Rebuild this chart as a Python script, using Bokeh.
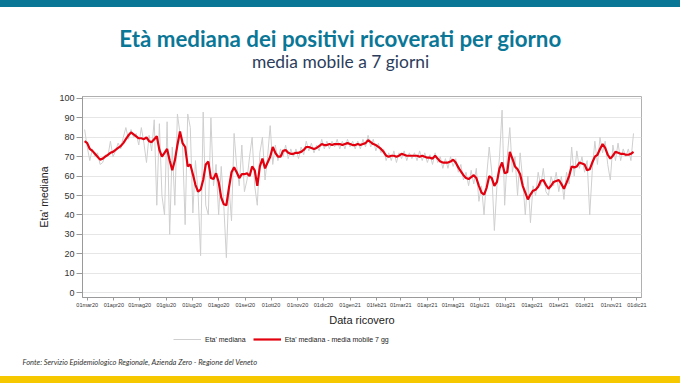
import pandas as pd
from bokeh.plotting import figure
from bokeh.models import Range1d, FixedTicker, Legend, LegendItem, Title, Label
from bokeh.layouts import column
from bokeh.embed import file_html
from bokeh.resources import INLINE

# ---------------- data ----------------
start_date = "2020-02-27"
step_days = 3

eta_mediana = [
    84, 75, 68, 74, 70, 72, 66, 67, 71, 70,
    78, 70, 73, 77, 74, 80, 85, 79, 84, 80,
    82, 76, 85, 77, 67, 81, 73, 89, 45, 87,
    50, 40, 88, 30, 75, 45, 92, 82, 76, 35,
    92, 85, 41, 68, 52, 19, 93, 45, 40, 90,
    55, 66, 40, 65, 45, 18, 55, 37, 82, 65,
    55, 76, 52, 58, 70, 80, 55, 45, 72, 80,
    58, 70, 86, 66, 76, 68, 74, 70, 76, 69,
    74, 70, 74, 69, 75, 71, 78, 73, 77, 72,
    76, 73, 79, 74, 78, 74, 78, 75, 79, 74,
    78, 74, 79, 75, 78, 74, 78, 74, 79, 75,
    81, 75, 79, 73, 77, 72, 74, 68, 72, 68,
    73, 67, 72, 69, 73, 68, 72, 69, 72, 68,
    73, 68, 72, 67, 71, 66, 72, 67, 70, 64,
    69, 64, 70, 65, 69, 62, 66, 58, 62, 55,
    63, 56, 64, 47, 55, 40, 60, 75, 62, 32,
    55, 70, 94, 45, 70, 85, 62, 70, 50, 72,
    58, 40, 60, 36, 55, 50, 62, 55, 64, 52,
    50, 60, 55, 62, 52, 60, 48, 62, 56, 75,
    60, 73, 64, 70, 62, 68, 40, 63, 78, 66,
    80, 72, 78, 66, 58, 76, 68, 77, 68, 74,
    70, 74, 68, 82,
]

media_mobile_7gg = [
    78, 77, 74, 73, 71.5, 70, 68.5, 69, 70, 71,
    72, 72.5, 73.5, 74.5, 75.5, 77, 79, 81, 82.5, 81.5,
    80.5, 79.5, 79.5, 79, 80, 78, 77.5, 79, 80.5, 73.5,
    70, 72, 74, 68, 63, 68, 76, 83, 77, 75,
    65, 66, 61, 55.5, 52, 53, 58, 66, 67.5, 59,
    58.5, 61.5, 57, 49, 45.5, 45, 54, 62, 64.5, 62,
    59, 61, 61, 61.5, 60, 65, 63, 55, 65, 69,
    64, 67, 70, 75, 72, 70, 70, 73, 73.5, 72,
    71.5, 71.5, 72, 72, 72.5, 73.5, 75, 75, 74.5, 74,
    74.5, 75.5, 76.5, 76, 76, 76.5, 76, 76.5, 76.5, 76.5,
    76, 76.5, 77, 76.5, 76, 76, 76.5, 76, 76.5, 77,
    78.5, 77.5, 76.5, 76, 75, 74, 72.5, 70.5, 70, 70.5,
    70.5, 70, 70.5, 71.5, 71, 70.5, 70.5, 70.5, 70.5, 70.5,
    70, 70.5, 70, 69.5, 69.5, 69, 70.5, 69, 67.5, 67,
    67, 67, 67.5, 68.5, 67, 64.5, 62.5, 60.5, 59, 58.5,
    59.5, 60.5, 59, 55, 51.5, 50.5, 54, 60, 59, 55,
    57, 64, 67, 61.5, 62, 72.5, 69, 65, 63.5, 61,
    55, 51.5, 48, 50.5, 52.5, 53, 54.5, 57.5, 58, 55.5,
    53.5, 55, 57, 57.5, 58, 56, 53.5, 56.5, 60, 65,
    64.5, 65, 67, 66.5, 66, 63, 63.5, 67, 70, 71,
    74, 76.5, 74.5, 71, 69, 70.5, 72.5, 72, 71.5, 71.5,
    71, 71, 71.5, 72.5,
]

tick_dates = [
    "2020-03-01", "2020-04-01", "2020-05-01", "2020-06-01", "2020-07-01",
    "2020-08-01", "2020-09-01", "2020-10-01", "2020-11-01", "2020-12-01",
    "2021-01-01", "2021-02-01", "2021-03-01", "2021-04-01", "2021-05-01",
    "2021-06-01", "2021-07-01", "2021-08-01", "2021-09-01", "2021-10-01",
    "2021-11-01", "2021-12-01",
]
tick_labels = [
    "01mar20", "01apr20", "01mag20", "01giu20", "01lug20", "01ago20",
    "01set20", "01ott20", "01nov20", "01dic20", "01gen21", "01feb21",
    "01mar21", "01apr21", "01mag21", "01giu21", "01lug21", "01ago21",
    "01set21", "01ott21", "01nov21", "01dic21",
]
y_ticks = [0, 10, 20, 30, 40, 50, 60, 70, 80, 90, 100]

# ---------------- build ----------------
base = pd.Timestamp("2020-03-01")
dates = pd.date_range(start_date, periods=len(eta_mediana), freq=f"{step_days}D")
xs = [(d - base).days for d in dates]
tick_pos = [(pd.Timestamp(d) - base).days for d in tick_dates]

TEAL = "#0b7797"
YELLOW = "#f6c800"
GRAY_LINE = "#cfcfcf"
RED_LINE = "#e3000f"
W = 680
LEFT, RIGHT = 82, 39


def strip(height, top=0, bottom=0):
    f = figure(width=W, height=height, output_backend="svg", toolbar_location=None,
               x_range=Range1d(0, 1), y_range=Range1d(0, 1),
               x_axis_location=None, y_axis_location=None,
               min_border_left=LEFT, min_border_right=RIGHT,
               min_border_top=top, min_border_bottom=bottom,
               background_fill_color="white", border_fill_color="white",
               outline_line_color=None)
    f.grid.visible = False
    return f


# ---- header with title / subtitle ----
head = strip(84)
head.add_layout(Label(x=258, y=53, x_units="screen", y_units="screen",
                      text="Età mediana dei positivi ricoverati per giorno",
                      text_align="center", text_baseline="middle", text_font="Lato",
                      text_font_size="22.3px", text_font_style="bold", text_color=TEAL))
head.add_layout(Label(x=258, y=30, x_units="screen", y_units="screen",
                      text="media mobile a 7 giorni",
                      text_align="center", text_baseline="middle", text_font="Lato",
                      text_font_size="17.4px", text_color="#2c3d5c"))

# ---- main chart ----
p = figure(width=W, height=237, output_backend="svg", toolbar_location=None,
           x_range=Range1d(-5.5, 645.3), y_range=Range1d(-2.5, 101),
           min_border_left=LEFT, min_border_right=RIGHT, min_border_top=5,
           min_border_bottom=28, background_fill_color="white",
           border_fill_color="white", outline_line_color="#b0b0b0")

p.line(xs, eta_mediana, line_color=GRAY_LINE, line_width=1)
p.line(xs, media_mobile_7gg, line_color=RED_LINE, line_width=2.2)

p.xgrid.visible = False
p.ygrid.grid_line_color = "#e6e6e6"

p.xaxis.ticker = FixedTicker(ticks=tick_pos)
p.xaxis.major_label_overrides = {int(k): v for k, v in zip(tick_pos, tick_labels)}
p.xaxis.major_label_text_font_size = "5.5px"
p.xaxis.major_label_standoff = 1
p.xaxis.major_tick_out = 3
p.xaxis.major_tick_in = 0
p.xaxis.minor_tick_line_color = None
p.xaxis.axis_label = "Data ricovero"
p.xaxis.axis_label_text_font_size = "11px"
p.xaxis.axis_label_text_font_style = "normal"
p.xaxis.axis_label_standoff = 3

p.yaxis.ticker = FixedTicker(ticks=y_ticks)
p.yaxis.major_label_text_font_size = "9px"
p.yaxis.major_label_standoff = 2
p.yaxis.major_tick_out = 6
p.yaxis.major_tick_in = 0
p.yaxis.minor_tick_line_color = None
p.yaxis.axis_label = "Eta' mediana"
p.yaxis.axis_label_text_font_size = "10.5px"
p.yaxis.axis_label_text_font_style = "normal"
p.yaxis.axis_label_standoff = 6

for ax in (p.xaxis, p.yaxis):
    ax.axis_line_color = "#9a9a9a"
    ax.major_tick_line_color = "#9a9a9a"
    ax.major_label_text_color = "#333333"
    ax.axis_label_text_color = "#222222"
    ax.major_label_text_font = "Liberation Sans"
    ax.axis_label_text_font = "Liberation Sans"

# ---- legend + source strip ----
lg = strip(48, top=0, bottom=22)
# legend keys: same series, drawn outside this strip's (empty) view
k1 = lg.line(xs, eta_mediana, line_color=GRAY_LINE, line_width=1)
k2 = lg.line(xs, media_mobile_7gg, line_color=RED_LINE, line_width=2.2)
legend = Legend(items=[LegendItem(label="Eta' mediana", renderers=[k1]),
                       LegendItem(label="Eta' mediana - media mobile 7 gg", renderers=[k2])],
                orientation="horizontal", location=(91, 11),
                label_text_font_size="7px", label_text_font="Liberation Sans",
                label_text_color="#222222", glyph_width=28, glyph_height=8,
                label_standoff=4, spacing=7, padding=0, margin=0,
                border_line_color=None, background_fill_alpha=0)
lg.add_layout(legend)
lg.add_layout(Title(text="Fonte: Servizio Epidemiologico Regionale, Azienda Zero - Regione del Veneto",
                    align="left", offset=-60, text_font="Lato", text_font_size="7.5px",
                    text_font_style="italic", text_color="#333333", standoff=2), "below")

layout = column(head, p, lg, spacing=0)
# decorative page bands (top teal, bottom yellow) drawn as CSS shadows
layout.styles = {"position": "relative", "top": "7px",
                 "box-shadow": f"0 -7px 0 0 {TEAL}, 0 7px 0 0 {YELLOW}"}

open("out.html", "w").write(file_html(layout, INLINE))
